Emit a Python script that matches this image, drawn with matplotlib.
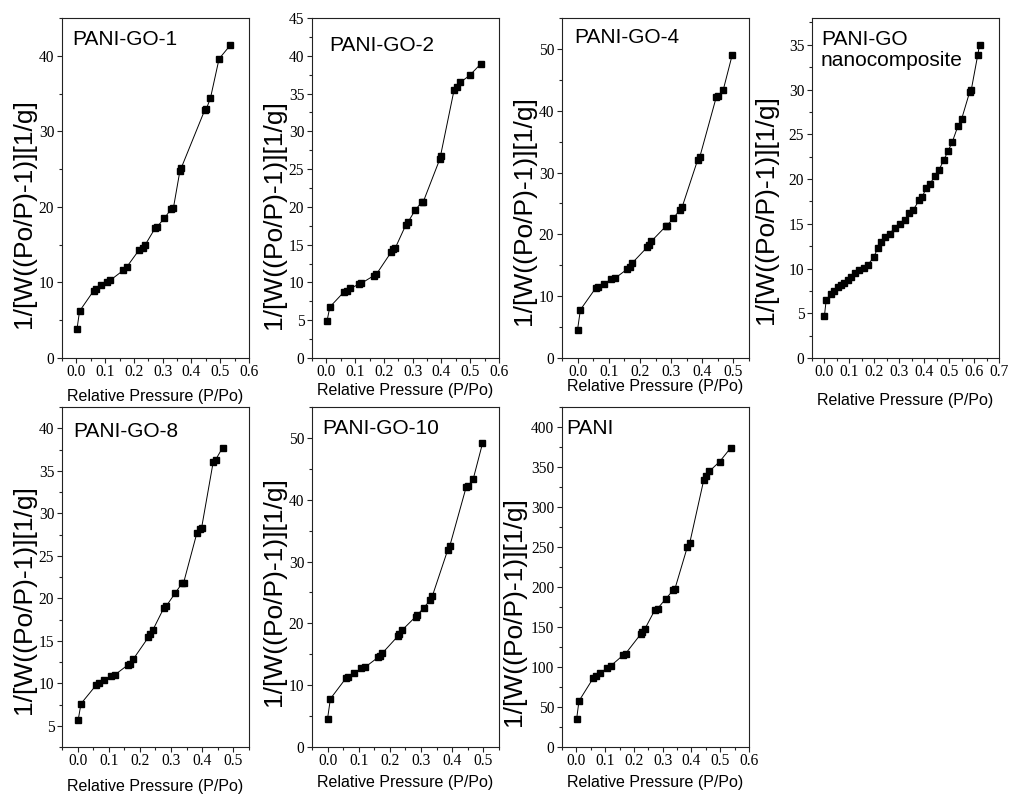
"""BET plots, 1/[W((Po/P)-1)] against relative pressure, for seven samples."""
import matplotlib
matplotlib.use("Agg")
from matplotlib import pyplot as plt
from matplotlib.ticker import MultipleLocator, AutoMinorLocator, FormatStrFormatter

# data
go1_p = [0.002, 0.011, 0.060, 0.069, 0.086, 0.107, 0.118, 0.163, 0.176, 0.218, 0.230, 0.238,
         0.274, 0.279, 0.306, 0.329, 0.337, 0.360, 0.365, 0.446, 0.452, 0.466, 0.496, 0.535]
go1_w = [3.8, 6.2, 8.9, 9.1, 9.6, 10.0, 10.3, 11.6, 12.1, 14.3, 14.6, 14.9,
         17.2, 17.3, 18.5, 19.7, 19.8, 24.8, 25.2, 32.8, 33.0, 34.4, 39.6, 41.4]

go2_p = [0.002, 0.012, 0.060, 0.070, 0.083, 0.114, 0.122, 0.165, 0.174, 0.225, 0.233, 0.240,
         0.276, 0.284, 0.309, 0.331, 0.337, 0.394, 0.397, 0.444, 0.454, 0.466, 0.498, 0.536]
go2_w = [4.85, 6.75, 8.7, 8.9, 9.2, 9.8, 9.9, 10.9, 11.1, 14.0, 14.4, 14.6,
         17.6, 18.0, 19.6, 20.6, 20.7, 26.3, 26.8, 35.5, 35.9, 36.5, 37.4, 38.9]

go4_p = [0.000, 0.009, 0.058, 0.067, 0.084, 0.107, 0.120, 0.160, 0.167, 0.174, 0.223, 0.229,
         0.237, 0.283, 0.287, 0.307, 0.329, 0.336, 0.385, 0.392, 0.445, 0.451, 0.467, 0.496]
go4_w = [4.6, 7.8, 11.3, 11.5, 12.0, 12.7, 12.9, 14.4, 14.8, 15.3, 17.9, 18.3,
         18.9, 21.3, 21.4, 22.6, 24.0, 24.5, 32.0, 32.5, 42.2, 42.4, 43.3, 49.0]

nano_p = [0.000, 0.007, 0.027, 0.040, 0.053, 0.067, 0.080, 0.094, 0.107, 0.124, 0.140, 0.157,
          0.174, 0.198, 0.214, 0.225, 0.241, 0.261, 0.281, 0.304, 0.321, 0.341, 0.355, 0.381,
          0.392, 0.408, 0.424, 0.442, 0.459, 0.478, 0.495, 0.512, 0.535, 0.550, 0.582, 0.589,
          0.615, 0.622]
nano_w = [4.75, 6.5, 7.2, 7.5, 7.9, 8.2, 8.4, 8.7, 9.0, 9.5, 9.8, 10.1,
          10.4, 11.3, 12.3, 13.0, 13.5, 13.9, 14.5, 15.0, 15.4, 16.2, 16.5, 17.7,
          18.0, 19.0, 19.5, 20.3, 21.0, 22.1, 23.1, 24.1, 25.9, 26.7, 29.7, 30.0,
          33.9, 35.0]

go8_p = [0.002, 0.011, 0.060, 0.069, 0.086, 0.108, 0.120, 0.163, 0.169, 0.178, 0.227, 0.232,
         0.242, 0.276, 0.285, 0.313, 0.336, 0.340, 0.383, 0.392, 0.398, 0.435, 0.443, 0.465]
go8_w = [5.7, 7.6, 9.8, 10.0, 10.4, 10.8, 11.0, 12.2, 12.3, 12.8, 15.4, 15.8,
         16.3, 18.8, 19.1, 20.6, 21.8, 21.8, 27.7, 28.1, 28.3, 36.0, 36.3, 37.7]

go10_p = [0.000, 0.009, 0.060, 0.067, 0.084, 0.108, 0.120, 0.162, 0.167, 0.176, 0.225, 0.229,
          0.239, 0.283, 0.287, 0.308, 0.330, 0.336, 0.385, 0.392, 0.445, 0.451, 0.467, 0.497]
go10_w = [4.6, 7.8, 11.2, 11.4, 12.0, 12.7, 12.9, 14.5, 14.7, 15.2, 17.9, 18.3,
          18.9, 21.1, 21.3, 22.5, 23.8, 24.4, 31.8, 32.5, 42.1, 42.3, 43.3, 49.1]

pani_p = [0.001, 0.009, 0.058, 0.067, 0.081, 0.107, 0.119, 0.162, 0.171, 0.225, 0.229, 0.238,
          0.272, 0.282, 0.311, 0.336, 0.342, 0.386, 0.394, 0.443, 0.452, 0.462, 0.498, 0.537]
pani_w = [35.4, 57.5, 85.8, 88.3, 92.1, 98.8, 101.3, 114.6, 116.7, 141.7, 143.8, 147.5,
          170.8, 172.9, 185.4, 195.8, 197.1, 250.4, 255.0, 334.2, 338.3, 344.6, 356.7, 374.2]

names = ["PANI-GO-1", "PANI-GO-2", "PANI-GO-4", "PANI-GO\nnanocomposite",
         "PANI-GO-8", "PANI-GO-10", "PANI"]
series = [(go1_p, go1_w), (go2_p, go2_w), (go4_p, go4_w), (nano_p, nano_w),
          (go8_p, go8_w), (go10_p, go10_w), (pani_p, pani_w)]

# axis limits / tick steps per panel
x_limits = [(-0.05, 0.6), (-0.05, 0.6), (-0.05, 0.55), (-0.05, 0.7),
            (-0.05, 0.55), (-0.05, 0.55), (-0.05, 0.6)]
y_limits = [(0, 45), (0, 45), (0, 55), (0, 38), (2.5, 42.5), (0, 55), (0, 425)]
y_steps = [10, 5, 10, 5, 5, 10, 50]

# layout in pixels of the 1012x796 picture
FIG_W, FIG_H = 1012, 796
AX_W, AX_H = 187, 340
lefts = [62, 312, 562, 812, 62, 312, 562]
tops = [18, 18, 18, 18, 407, 407, 407]
name_offsets = [(10, 12), (17, 18), (12, 10), (9, 12), (11, 15), (10, 12), (4, 12)]
xlabel_centres = [397, 390, 387, 400, 786, 782, 783]
ylabel_gaps = [38, 38, 38, 46, 38, 38, 48]
ylabel_centres = [214, 215, 211, 210, 600, 592, 612]

plt.rcParams['font.family'] = 'serif'
plt.rcParams['font.serif'] = ['Liberation Serif', 'DejaVu Serif']
SANS = ['Liberation Sans', 'DejaVu Sans']

fig = plt.figure(figsize=(FIG_W / 100, FIG_H / 100), dpi=100)

for i, (p, w) in enumerate(series):
    bottom = tops[i] + AX_H
    ax = fig.add_axes([lefts[i] / FIG_W, 1 - bottom / FIG_H, AX_W / FIG_W, AX_H / FIG_H])
    ax.plot(p, w, color='black', lw=0.7, marker='s', ms=4, mec='black', mfc='black')

    ax.set_xlim(*x_limits[i])
    ax.set_ylim(*y_limits[i])
    ax.xaxis.set_major_locator(MultipleLocator(0.1))
    ax.xaxis.set_major_formatter(FormatStrFormatter('%.1f'))
    ax.xaxis.set_minor_locator(AutoMinorLocator(2))
    ax.yaxis.set_major_locator(MultipleLocator(y_steps[i]))
    ax.yaxis.set_minor_locator(AutoMinorLocator(2))
    ax.tick_params(which='both', direction='out', top=False, right=False,
                   labelsize=11.2, width=0.8, color='#222222')
    ax.tick_params(which='major', length=3.5)
    ax.tick_params(which='minor', length=2)
    ax.tick_params(axis='x', pad=1)
    ax.tick_params(axis='y', pad=2)
    for spine in ax.spines.values():
        spine.set_linewidth(0.8)
        spine.set_color('#222222')

    dx, dy = name_offsets[i]
    ax.text(dx / AX_W, 1 - dy / AX_H, names[i], transform=ax.transAxes,
            ha='left', va='top', fontsize=15, family=SANS, linespacing=1.15)

    ax.set_xlabel("Relative Pressure (P/Po)", fontsize=11.5, family=SANS, va='center')
    ax.xaxis.set_label_coords(0.5, (bottom - xlabel_centres[i]) / AX_H)
    ax.set_ylabel("1/[W((Po/P)-1)][1/g]", fontsize=19, family=SANS, va='center')
    ax.yaxis.set_label_coords(-ylabel_gaps[i] / AX_W, (bottom - ylabel_centres[i]) / AX_H)

fig.savefig("out.png", dpi=100)
